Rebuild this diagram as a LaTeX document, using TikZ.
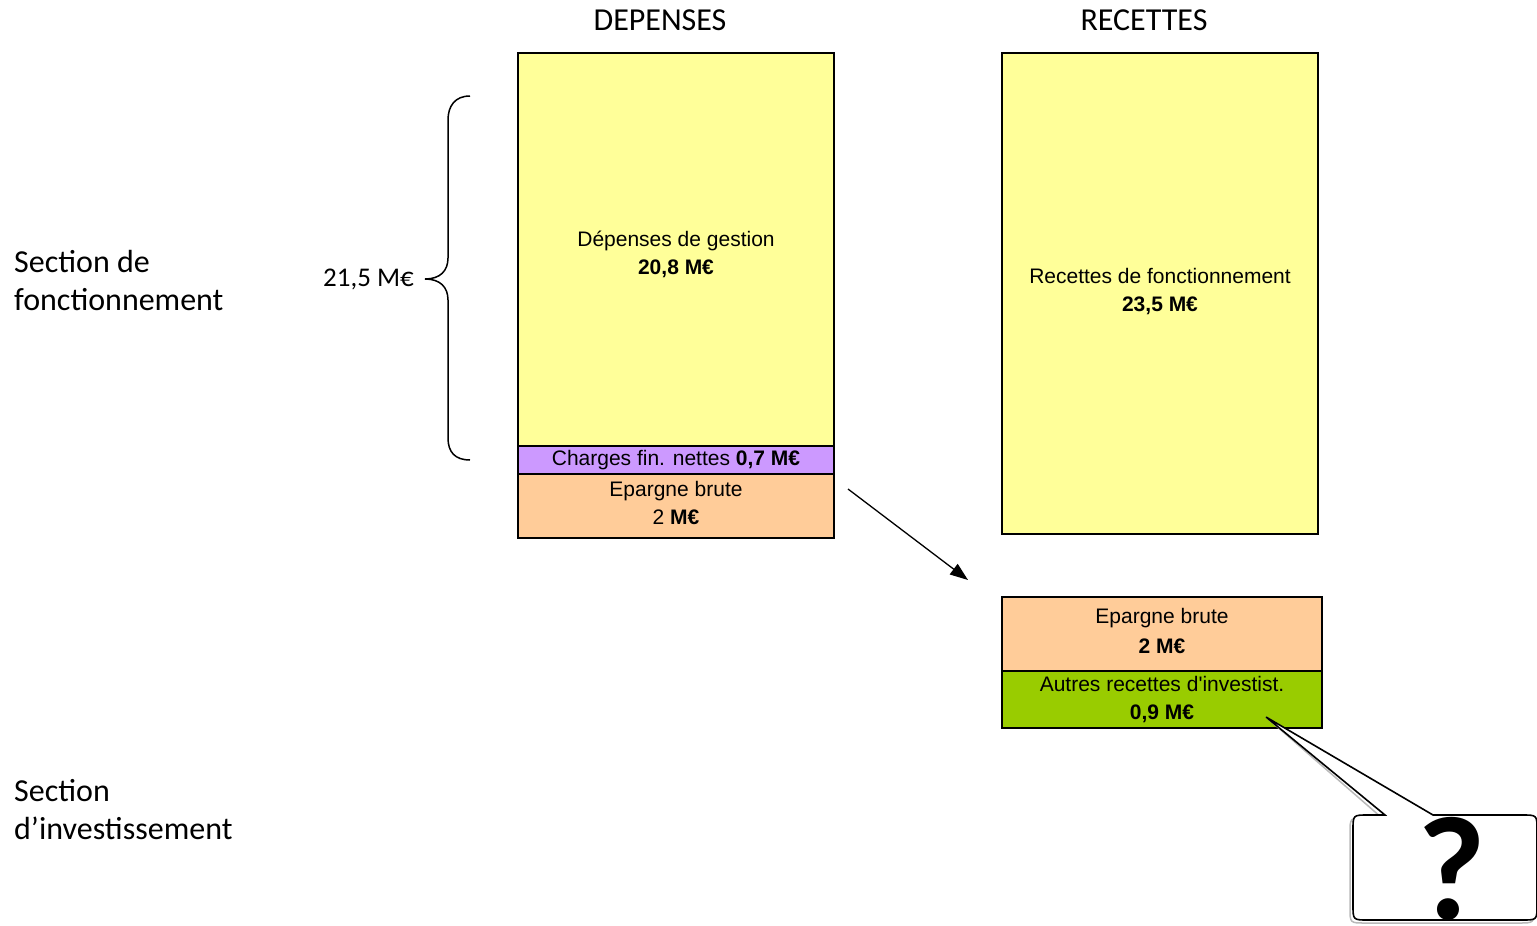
\documentclass[tikz,border=0pt]{standalone}
\usepackage{fontspec}
\setmainfont{Carlito}
\newfontfamily\arialf{Liberation Sans}
\usetikzlibrary{arrows.meta}
\definecolor{yel}{HTML}{FFFF99}
\definecolor{purp}{HTML}{CC99FF}
\definecolor{orng}{HTML}{FFCC99}
\definecolor{grn}{HTML}{99CC00}
\begin{document}
\begin{tikzpicture}[x=1pt,y=-1pt,
  box/.style={draw=black, line width=2pt, inner sep=0pt, anchor=north west, align=center,
    minimum width=316pt, font=\arialf\fontsize{21}{28}\selectfont},
  boxtext/.style={font=\arialf\fontsize{21}{28}\selectfont, align=center, inner sep=0pt},
  cal/.style={font=\fontsize{32}{38}\selectfont, align=left, anchor=west, inner sep=0pt},
  ttl/.style={font=\fontsize{32}{36}\selectfont, inner sep=0pt}]
\useasboundingbox (0,0) rectangle (1537,926);
% titles
\node[ttl] (tdep) at (660,20) {DEPENSES};
\node[ttl] (trec) at (1144,20) {RECETTES};
% section labels
\node[cal] (sfonc) at (14,281) {Section de\\fonctionnement};
\node[cal] (sinv) at (14,810) {Section\\d’investissement};
% left column
\node[box, fill=yel, minimum height=393pt] (dg) at (517,52) {};
\node[boxtext] (dgt) at ([yshift=-5pt]dg.center) {Dépenses de gestion\\\textbf{20,8 M€}};
\node[box, fill=purp, minimum height=28pt] (cf) at (517,445) {Charges fin. nettes \textbf{0,7 M€}};
\node[box, fill=orng, minimum height=64pt] (eb1) at (517,473) {};
\node[boxtext] (eb1t) at ([yshift=3pt]eb1.center) {Epargne brute\\2 \textbf{M€}};
% right column
\node[box, fill=yel, minimum height=481pt] (rf) at (1001,52) {};
\node[boxtext] (rft) at ([yshift=2pt]rf.center) {Recettes de fonctionnement\\\textbf{23,5 M€}};
\node[box, fill=orng, minimum width=320pt, minimum height=74pt] (eb2) at (1001,596) {};
\node[boxtext, font=\arialf\fontsize{21}{30}\selectfont] (eb2t) at ([yshift=3pt]eb2.center) {Epargne brute\\\textbf{2 M€}};
\node[box, fill=grn, minimum width=320pt, minimum height=57pt] (ar) at (1001,670) {Autres recettes d'investist.\\\textbf{0,9 M€}};
% brace
\draw[line width=1.5pt] (470,96) .. controls (455,96) and (448,106) .. (448,120) -- (448,258)
  .. controls (448,271) and (440,279) .. (425,279)
  .. controls (440,279) and (448,287) .. (448,300) -- (448,438)
  .. controls (448,452) and (455,460) .. (470,460);
\node[font=\fontsize{27}{30}\selectfont, anchor=east, inner sep=0pt] (brl) at (414,279) {21,5 M€};
% arrow
\coordinate (a1) at (848,489);
\coordinate (a2) at (968,580);
\draw[line width=1.3pt, -{Triangle[length=18pt,width=13pt]}] (a1) -- (a2);
% callout
\coordinate (tip) at (1266,717);
\begin{scope}
\clip (0,0) rectangle (1537,926);
\draw[gray!55, line width=1.5pt, xshift=-3pt, yshift=-3pt]
  (1385,815) -- (tip) -- (1433,815) -- (1522,815) .. controls (1537,815) .. (1537,830)
  -- (1537,905) .. controls (1537,920) .. (1522,920) -- (1368,920)
  .. controls (1353,920) .. (1353,905) -- (1353,830) .. controls (1353,815) .. (1368,815) -- cycle;
\draw[black, fill=white, line width=1.6pt]
  (1385,815) -- (tip) -- (1433,815) -- (1522,815) .. controls (1537,815) .. (1537,830)
  -- (1537,905) .. controls (1537,920) .. (1522,920) -- (1368,920)
  .. controls (1353,920) .. (1353,905) -- (1353,830) .. controls (1353,815) .. (1368,815) -- cycle;
\end{scope}
\node[font=\bfseries\fontsize{148}{148}\selectfont, inner sep=0pt] (qm) at (1452,869) {?};
\end{tikzpicture}
\end{document}
